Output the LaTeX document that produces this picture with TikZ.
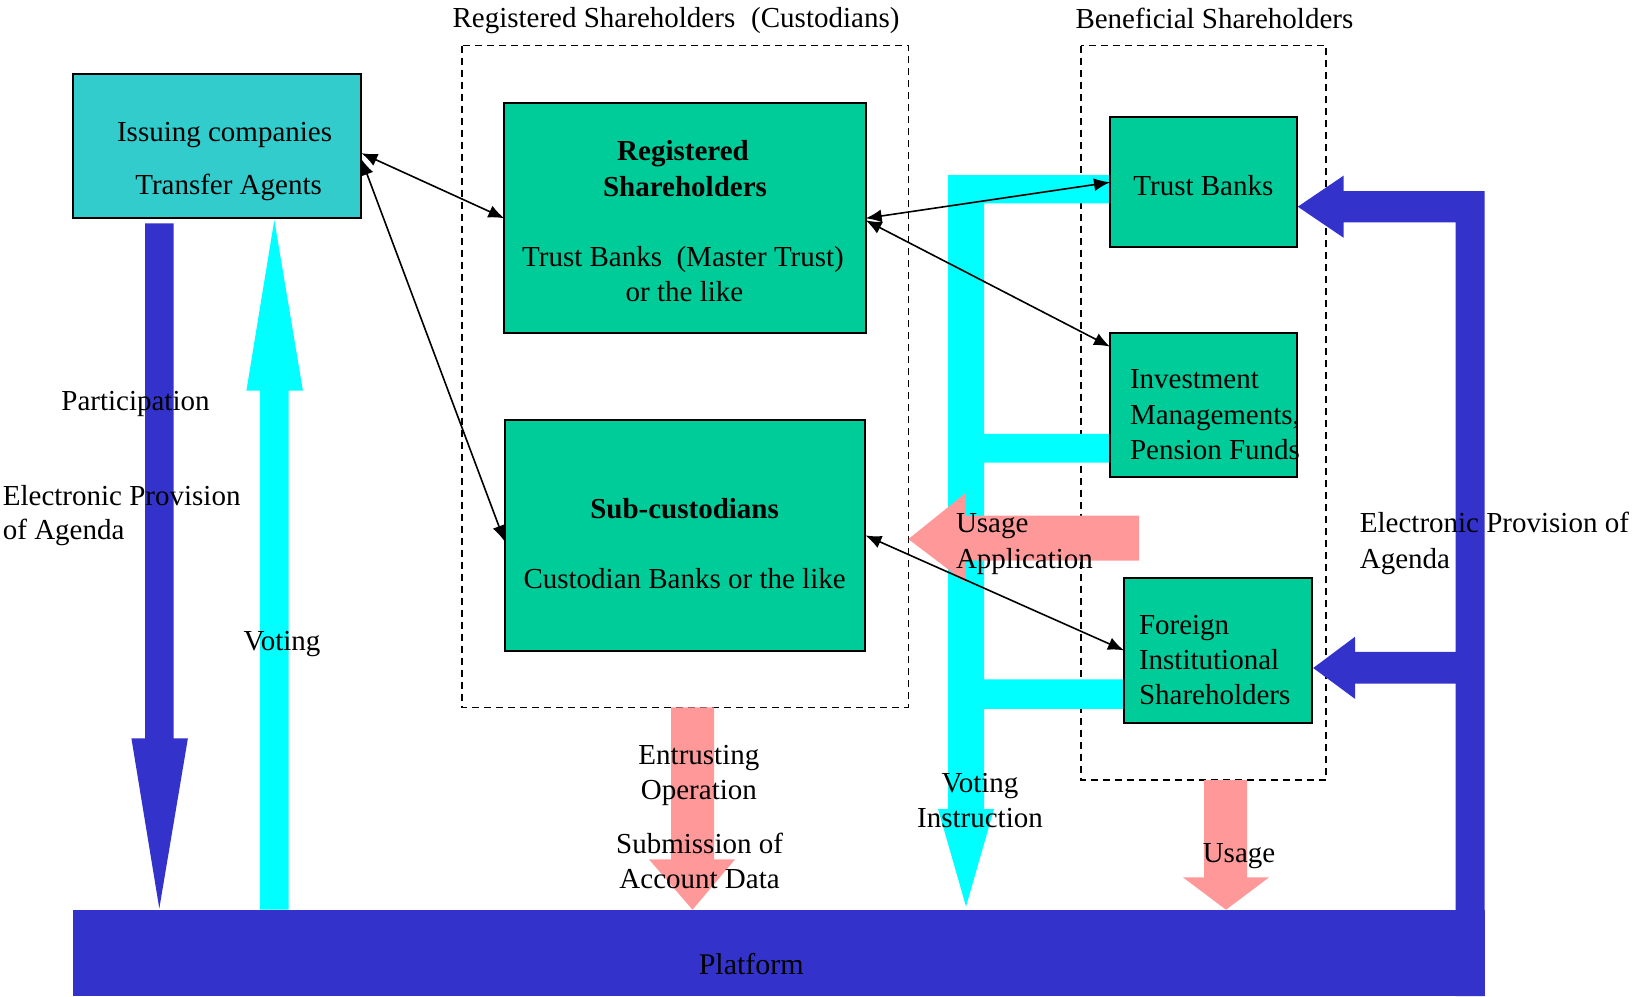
\documentclass[tikz,border=0pt]{standalone}
\usepackage{fontspec}
\setmainfont{Liberation Serif}
\usetikzlibrary{arrows.meta}
\definecolor{pblue}{HTML}{3333CC}
\definecolor{pcyan}{HTML}{00FFFF}
\definecolor{ppink}{HTML}{FF9999}
\definecolor{pgreen}{HTML}{00CC99}
\definecolor{pteal}{HTML}{33CCCC}
\begin{document}
\begin{tikzpicture}[x=1pt,y=-1pt,
  every node/.style={font=\fontsize{29}{35}\selectfont, inner sep=0pt, outer sep=0pt},
  gbox/.style={draw=black, line width=2pt, fill=pgreen},
  ibox/.style={draw=black, line width=2pt, fill=pteal},
  grp/.style={draw=black, line width=1.5pt, dash pattern=on 7pt off 5pt},
  lbl/.style={anchor=base, yshift=-3.5pt},
  lbll/.style={anchor=base west, yshift=-3.5pt},
  link/.style={line width=1.6pt, {Latex[length=16pt,width=13pt]}-{Latex[length=16pt,width=13pt]}},
  fatblue/.style={fill=pblue},
  fatcyan/.style={fill=pcyan},
  fatpink/.style={fill=ppink}
]
\useasboundingbox (0,0) rectangle (1632,996);

% group frames
\draw[grp] (461.8,45.7) rectangle (908.3,707.3);
\draw[grp] (1081,45.7) rectangle (1326,780);

% thick arrows
\fill[fatblue] (145,223.3) -- (173.6,223.3) -- (173.6,738.3) -- (187.9,738.3) -- (159.3,908.5) -- (131.4,738.3) -- (145,738.3) -- cycle;
\fill[fatcyan] (260,909.7) -- (260,390.7) -- (246.4,390.7) -- (274.3,220) -- (302.9,390.7) -- (288.6,390.7) -- (288.6,909.7) -- cycle;
\fill[fatcyan] (948,175) -- (1110,175) -- (1110,203.3) -- (984,203.3) -- (984,433.8) -- (1110,433.8) -- (1110,462.5) -- (984,462.5) -- (984,679.4) -- (1124,679.4) -- (1124,708.9) -- (984,708.9) -- (984,809) -- (994,809) -- (966,906.5) -- (938,809) -- (948,809) -- cycle;
\fill[fatpink] (671,707.3) -- (714,707.3) -- (714,859.4) -- (735,859.4) -- (692.5,909.7) -- (649,859.4) -- (671,859.4) -- cycle;
\fill[fatpink] (1139,515.6) -- (1139,560.7) -- (965.4,560.7) -- (965.4,582.4) -- (908.4,539.1) -- (965.4,493.2) -- (965.4,515.6) -- cycle;
\fill[fatpink] (1204,780) -- (1247,780) -- (1247,877.4) -- (1269,877.4) -- (1226,909.7) -- (1183,877.4) -- (1204,877.4) -- cycle;
\fill[fatblue] (1484.5,191) -- (1484.5,996) -- (1455.5,996) -- (1455.5,683.7) -- (1355.2,683.7) -- (1355.2,699) -- (1313.2,668) -- (1355.2,636.6) -- (1355.2,651.9) -- (1455.5,651.9) -- (1455.5,222.3) -- (1343.5,222.3) -- (1343.5,237.7) -- (1297.8,206.7) -- (1343.5,175.7) -- (1343.5,191) -- cycle;

% platform
\node[fill=pblue, minimum width=1411.6pt, minimum height=86.3pt, anchor=north west] (plat) at (72.9,909.7) {};

% boxes
\node[ibox, minimum width=288.5pt, minimum height=144.3pt] (iss) at (217.15,146.15) {};
\node[gbox, minimum width=361.3pt, minimum height=230pt] (reg) at (685,218.3) {};
\node[gbox, minimum width=360.8pt, minimum height=231.4pt] (sub) at (685,535.4) {};
\node[gbox, minimum width=187.3pt, minimum height=130pt] (tb) at (1203.65,182.3) {};
\node[gbox, minimum width=187.3pt, minimum height=144.7pt] (inv) at (1203.65,405) {};
\node[gbox, minimum width=188.2pt, minimum height=144.2pt] (fis) at (1218.1,650.5) {};

% texts
\node[lbl] (ttl1) at (676,23.5) {Registered Shareholders\hspace{0.55em}(Custodians)\hspace{0.2em}};
\node[lbl] (ttl2) at (1214.4,25) {Beneficial Shareholders};

\node[lbl] (iss1) at (224.6,138) {Issuing companies};
\node[lbl] (iss2) at (228.6,190.7) {Transfer Agents};

\node[lbl] (reg1) at (683,157.3) {\bfseries Registered};
\node[lbl] (reg2) at (685,193.3) {\bfseries Shareholders};
\node[lbl] (reg3) at (683,263.3) {Trust Banks\hspace{0.5em}(Master Trust)\hspace{0.2em}};
\node[lbl] (reg4) at (684.5,298.3) {or the like};

\node[lbl] (sub1) at (684.6,514.8) {\bfseries Sub-custodians};
\node[lbl] (sub2) at (684.6,585.1) {Custodian Banks or the like};

\node[lbl] (tb1) at (1203.4,191.7) {Trust Banks};

\node[lbll] (inv1) at (1130,385) {Investment};
\node[lbll] (inv2) at (1130,420.5) {Managements,};
\node[lbll] (inv3) at (1130,455.8) {Pension Funds};

\node[lbll] (fis1) at (1139,630.7) {Foreign};
\node[lbll] (fis2) at (1139,665.7) {Institutional};
\node[lbll] (fis3) at (1139,701.4) {Shareholders};

\node[lbll] (part) at (61.4,406.7) {Participation};
\node[lbll] (epa1) at (2.9,501.8) {Electronic Provision};
\node[lbll] (epa2) at (2.9,536.4) {of Agenda};
\node[lbl] (vot) at (282,647.2) {Voting};

\node[lbl] (ent1) at (698.9,761.1) {Entrusting};
\node[lbl] (ent2) at (698.9,795.7) {Operation};
\node[lbl] (sbm1) at (699.6,849.5) {Submission of};
\node[lbl] (sbm2) at (699.6,884.9) {Account Data};

\node[lbl] (vi1) at (980,788.6) {Voting};
\node[lbl] (vi2) at (980,824) {Instruction};

\node[lbll] (ua1) at (956,529.3) {Usage};
\node[lbll] (ua2) at (956,564.7) {Application};

\node[lbl] (us) at (1239,859.4) {Usage};

\node[lbll] (epb1) at (1359.9,529.3) {Electronic Provision of};
\node[lbll] (epb2) at (1359.9,564.7) {Agenda};

\node[lbl, font=\fontsize{30}{36}\selectfont] (platt) at (751.3,970.6) {Platform};

% connectors
\draw[link] ([yshift=-7pt]iss.east) -- (reg.west);
\draw[link] ([yshift=-13pt]iss.east) -- ([yshift=-6pt]sub.west);
\draw[link] (reg.east) -- (tb.west);
\draw[link] ([yshift=-2pt]reg.east) -- ([yshift=-14pt]inv.north west);
\draw[link] (sub.east) -- ([yshift=-72pt]fis.north west);
\end{tikzpicture}
\end{document}
